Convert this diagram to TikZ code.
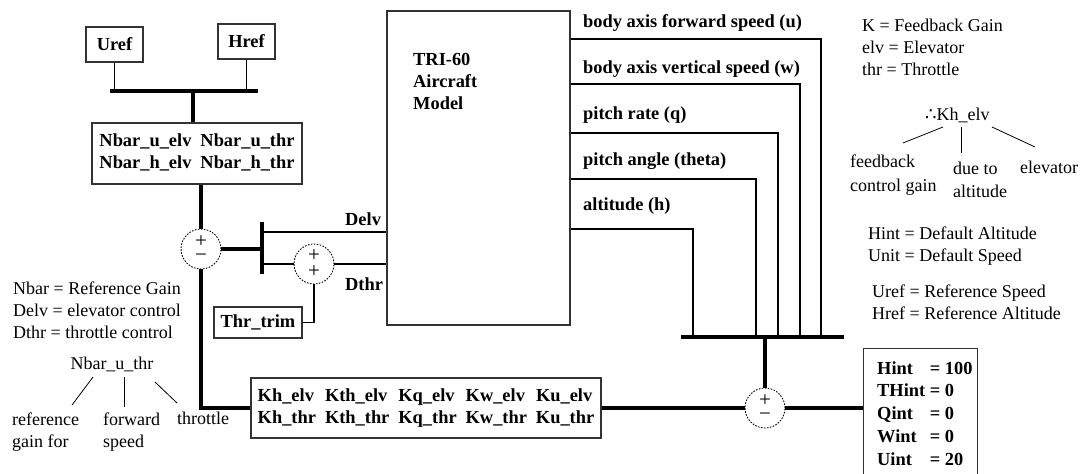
\documentclass[tikz,border=0pt]{standalone}
\usepackage{fontspec}
\setmainfont{Liberation Serif}
\newfontfamily\symfont{DejaVu Sans}
\begin{document}
\begin{tikzpicture}[x=1pt,y=-1pt,
  every node/.style={font=\fontsize{18}{22}\selectfont, inner sep=0pt},
  box/.style={draw=black!80, line width=1.1pt, fill=white, font=\bfseries\fontsize{18.4}{22}\selectfont},
  thinln/.style={line width=1.1pt},
  heavy/.style={line width=4pt},
  sumc/.style={circle, draw, dash pattern=on 1.6pt off 1.4pt, line width=0.9pt, minimum size=40pt, inner sep=0pt, fill=white, font=\fontsize{21}{14}\selectfont, align=center},
  lbl/.style={anchor=west, font=\bfseries\fontsize{18.4}{22}\selectfont},
  txt/.style={anchor=west, align=left},
  legln/.style={line width=0.8pt}]
\useasboundingbox (0,0) rectangle (1082,474);

% reference inputs
\node[box, minimum width=57pt, minimum height=35pt] (uref) at (114.5,44.5) {Uref};
\node[box, minimum width=57pt, minimum height=35pt] (href) at (246.5,41.5) {Href};
\coordinate (b1l) at (110,91);
\coordinate (b1r) at (258,91);
\coordinate (b1m) at (193,91);
\node[box, minimum width=210pt, minimum height=61pt] (nbar) at (197,153.5)
  {\begin{tabular}{@{}l@{\hspace{9pt}}l@{}}Nbar\_u\_elv & Nbar\_u\_thr\\ Nbar\_h\_elv & Nbar\_h\_thr\end{tabular}};
\draw[thinln] (uref.south) -- (uref.south |- b1l);
\draw[thinln] (href.south) -- (href.south |- b1l);
\draw[heavy] (b1l) -- (b1r);
\draw[heavy] (b1m) -- (b1m |- nbar.north);

% summing junctions and control inputs
\node[sumc] (s1) at (201,249) {+\\−};
\coordinate (b2t) at (262,222);
\coordinate (b2b) at (262,274);
\coordinate (delv) at (262,232);
\node[sumc] (s2) at (314,264) {+\\[2pt]+};
\node[box, minimum width=88pt, minimum height=31pt] (trim) at (258,322.5) {Thr\_trim};
\node[draw=black!80, line width=1.1pt, minimum width=183pt, minimum height=314pt] (model) at (478.5,168) {};
\node[lbl, align=left] (modeltxt) at (413,81) {TRI-60\\Aircraft\\Model};
\node[lbl] (delvtxt) at (345,219) {Delv};
\node[lbl] (dthrtxt) at (345,284) {Dthr};

\draw[heavy] (nbar.south -| s1) -- (s1.north);
\draw[heavy] (s1.east) -- (s1.east -| b2t);
\draw[heavy] (b2t) -- (b2b);
\draw[thinln] (delv) -- (delv -| model.west);
\draw[thinln] (b2b |- s2) -- (s2.west);
\draw[thinln] (s2.east) -- (s2.east -| model.west);
\draw[thinln] (s2.south) |- (trim.east);

% outputs
\coordinate (yu) at (0,39);
\coordinate (yw) at (0,84);
\coordinate (yq) at (0,133);
\coordinate (yt) at (0,179);
\coordinate (yh) at (0,229);
\coordinate (bu) at (821,337);
\coordinate (bw) at (800,337);
\coordinate (bq) at (778,337);
\coordinate (bt) at (756,337);
\coordinate (bh) at (693,337);
\coordinate (b3l) at (681,337);
\coordinate (b3r) at (844,337);
\coordinate (b3m) at (765,337);
\node[lbl] (ulbl) at (583,23) {body axis forward speed (u)};
\node[lbl] (wlbl) at (583,69) {body axis vertical speed (w)};
\node[lbl] (qlbl) at (583,115) {pitch rate (q)};
\node[lbl] (tlbl) at (583,161) {pitch angle (theta)};
\node[lbl] (hlbl) at (583,206) {altitude (h)};
\draw[thinln] (model.east |- yu) -| (bu);
\draw[thinln] (model.east |- yw) -| (bw);
\draw[thinln] (model.east |- yq) -| (bq);
\draw[thinln] (model.east |- yt) -| (bt);
\draw[thinln] (model.east |- yh) -| (bh);
\draw[heavy] (b3l) -- (b3r);

% feedback
\node[sumc] (s3) at (765,408) {+\\−};
\node[box, anchor=north west, minimum width=114pt, minimum height=132pt] (hint) at (863,348) {};
\node[anchor=west, font=\bfseries\fontsize{18.4}{22.75}\selectfont] (hinttxt) at (877,415)
  {\begin{tabular}{@{}l@{\ }l@{}}Hint & = 100\\ THint & = 0\\ Qint & = 0\\ Wint & = 0\\ Uint & = 20\end{tabular}};
\node[box, minimum width=350pt, minimum height=60pt] (kbox) at (426,408)
  {\begin{tabular}{@{}l@{\hspace{9pt}}l@{\hspace{9pt}}l@{\hspace{9pt}}l@{\hspace{9pt}}l@{}}
   Kh\_elv & Kth\_elv & Kq\_elv & Kw\_elv & Ku\_elv\\
   Kh\_thr & Kth\_thr & Kq\_thr & Kw\_thr & Ku\_thr\end{tabular}};
\draw[heavy] (b3m) -- (s3.north);
\draw[heavy] (s3.east) -- (s3.east -| hint.west);
\draw[heavy] (s3.west) -- (kbox.east);
\draw[heavy] (s1.south) |- (kbox.west);

% left legend
\node[txt] (legL) at (13,310) {Nbar = Reference Gain\\Delv = elevator control\\Dthr = throttle control};
\node (nut) at (112,364) {Nbar\_u\_thr};
\node[txt] (gainfor) at (12,432.5) {reference\\gain for};
\node[txt] (fwdsp) at (103,432.5) {forward\\speed};
\node[txt] (thrtl) at (177,418) {throttle};
\coordinate (l1a) at (93,377); \coordinate (l1b) at (72,405);
\coordinate (l2a) at (124,377); \coordinate (l2b) at (124,407);
\coordinate (l3a) at (155,382); \coordinate (l3b) at (177,403);
\draw[legln] (l1a) -- (l1b);
\draw[legln] (l2a) -- (l2b);
\draw[legln] (l3a) -- (l3b);

% right legend
\node[txt] (legR) at (862,47) {K = Feedback Gain\\elv = Elevator\\thr = Throttle};
\node[anchor=west] (khe) at (925,115) {{\symfont ∴}Kh\_elv};
\coordinate (r1a) at (943,127); \coordinate (r1b) at (903,143);
\coordinate (r2a) at (961,127); \coordinate (r2b) at (961,153);
\coordinate (r3a) at (992,127); \coordinate (r3b) at (1035,147);
\draw[legln] (r1a) -- (r1b);
\draw[legln] (r2a) -- (r2b);
\draw[legln] (r3a) -- (r3b);
\node[txt, font=\fontsize{18}{24}\selectfont] (fcg) at (850,175) {feedback\\control gain};
\node[txt, font=\fontsize{18}{23}\selectfont] (dta) at (953,179.5) {due to\\altitude};
\node[txt] (elev) at (1020,167) {elevator};
\node[txt] (hintL) at (868,246) {Hint = Default Altitude\\Unit = Default Speed};
\node[txt] (urefL) at (872,302.5) {Uref = Reference Speed\\Href = Reference Altitude};
\end{tikzpicture}
\end{document}
